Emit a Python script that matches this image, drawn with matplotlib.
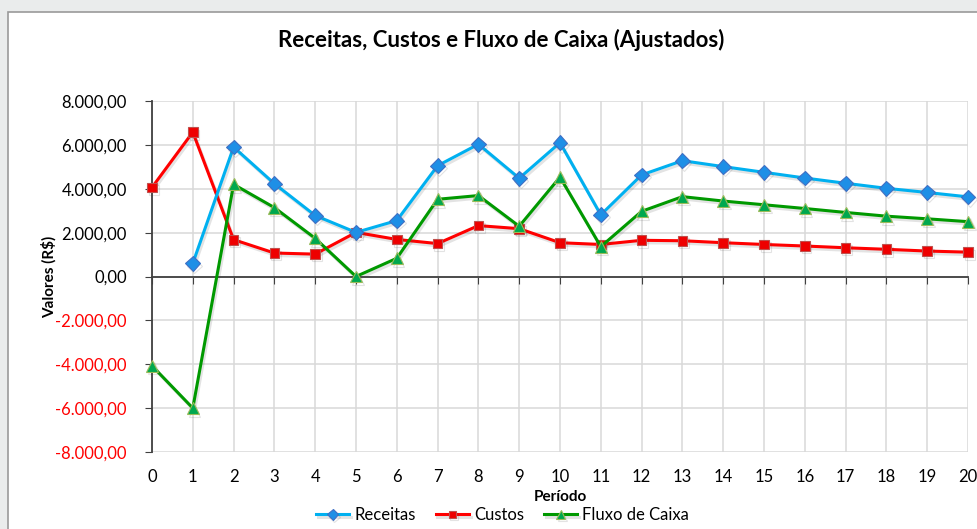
import matplotlib.pyplot as plt
import matplotlib.patheffects as pe
from matplotlib.patches import Rectangle
from matplotlib.ticker import FuncFormatter

plt.rcParams['font.family'] = ['Lato', 'DejaVu Sans']

periodos = list(range(21))
receitas = [None, 600, 5900, 4230, 2780, 2010, 2550, 5050, 6030, 4480, 6100, 2810,
            4630, 5280, 5010, 4750, 4490, 4250, 4020, 3830, 3630]
custos = [4060, 6580, 1680, 1070, 1020, 2010, 1690, 1500, 2320, 2180, 1540, 1460,
          1650, 1630, 1540, 1460, 1390, 1310, 1240, 1160, 1110]
fluxo = [-4070, -6000, 4200, 3140, 1740, 0, 830, 3520, 3690, 2290, 4530, 1360,
         2970, 3640, 3440, 3270, 3100, 2920, 2750, 2630, 2500]

y_ticks = list(range(-8000, 8001, 2000))


def fmt_br(v, pos=None):
    s = f"{v:,.2f}"
    return s.replace(",", "X").replace(".", ",").replace("X", ".")


fig = plt.figure(figsize=(9.78, 5.29), dpi=100)
fig.patch.set_facecolor('#eaecec')
# moldura branca do grafico
fig.patches.append(Rectangle((8 / 978, -0.05), 1.05, 1 - 12 / 529 + 0.05,
                             transform=fig.transFigure, facecolor='white',
                             edgecolor='#9a9a9a', linewidth=1.2, zorder=-10))

ax = fig.add_axes([152 / 978, 1 - 452 / 529, (968 - 152) / 978, (452 - 101) / 529])
ax.set_facecolor('none')

sombra = [pe.SimpleLineShadow(offset=(1.2, -1.8), alpha=0.15, shadow_color='#444444'), pe.Normal()]

ax.plot(periodos, receitas, color='#00b0f0', lw=2.2, marker='D', ms=7.5,
        mfc='#1e8fe6', mec='#3f6fc4', mew=0.8, label='Receitas', clip_on=False,
        path_effects=sombra, zorder=4)
ax.plot(periodos, custos, color='#ff0000', lw=2.2, marker='s', ms=7,
        mfc='#ee0000', mec='#c0504d', mew=0.8, label='Custos', clip_on=False,
        path_effects=sombra, zorder=3)
ax.plot(periodos, fluxo, color='#009900', lw=2.2, marker='^', ms=8.5,
        mfc='#00a84f', mec='#9bbb59', mew=0.8, label='Fluxo de Caixa', clip_on=False,
        path_effects=sombra, zorder=5)

ax.set_xlim(0, 20)
ax.set_ylim(-8000, 8000)
ax.set_xticks(periodos)
ax.set_yticks(y_ticks)
ax.yaxis.set_major_formatter(FuncFormatter(fmt_br))
ax.grid(True, color='#d9d9d9', lw=1.1)
ax.set_axisbelow(True)

for s in ['top', 'right']:
    ax.spines[s].set_visible(False)
ax.spines['left'].set_color('#404040')
ax.spines['left'].set_linewidth(1.3)
ax.spines['bottom'].set_position(('data', 0))
ax.spines['bottom'].set_color('#404040')
ax.spines['bottom'].set_linewidth(1.3)
ax.tick_params(axis='x', direction='out', length=5, color='#404040', labelbottom=False)
ax.tick_params(axis='y', direction='out', length=5, color='#404040', labelsize=12, pad=13)
for lab, v in zip(ax.get_yticklabels(), y_ticks):
    lab.set_color('#ff0000' if v < 0 else 'black')

sec = ax.secondary_xaxis(0.0)
sec.set_xticks(periodos)
sec.spines['bottom'].set_visible(False)
sec.tick_params(length=0, labelsize=12, pad=12)
sec.set_xlabel('Período', fontsize=11, fontweight='bold', labelpad=4)

ax.set_ylabel('Valores (R$)', fontsize=11, fontweight='bold', labelpad=-1)

fig.text(0.512, 1 - 40 / 529, 'Receitas, Custos e Fluxo de Caixa (Ajustados)',
         ha='center', va='center', fontsize=16, fontweight='bold')

fig.legend(loc='center', bbox_to_anchor=(0.514, 1 - 515 / 529), ncol=3, frameon=False,
           fontsize=12, handlelength=2.0, columnspacing=1.2, handletextpad=0.3,
           markerscale=0.75)

fig.savefig('out.png', dpi=100, facecolor=fig.get_facecolor())
